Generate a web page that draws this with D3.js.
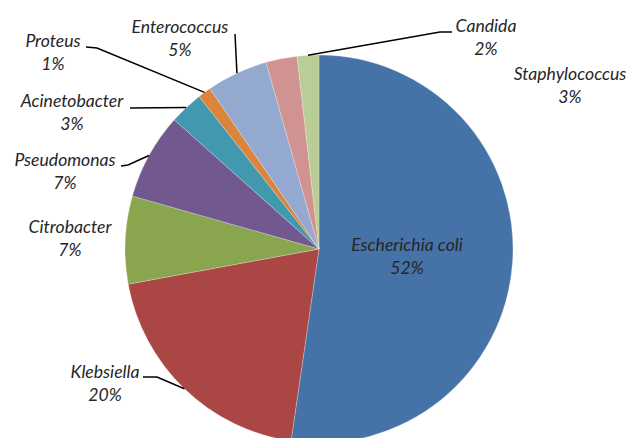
<!DOCTYPE html>
<html>
<head>
<meta charset="utf-8">
<script src="https://cdn.jsdelivr.net/npm/d3@7"></script>
<style>
  body { margin: 0; background: #fff; }
  svg text { font-family: Lato, "Open Sans", sans-serif; font-style: italic; font-size: 17.6px; fill: #262626; }
</style>
</head>
<body>
<div class="chart"></div>
<script>
// Data (clockwise from 12 o'clock, as in the original)
const organisms = ["Escherichia coli", "Klebsiella", "Citrobacter", "Pseudomonas", "Acinetobacter",
                   "Proteus", "Enterococcus", "Staphylococcus", "Candida"];
const shares = [52.3, 19.8, 7.3, 7.2, 2.8, 1.1, 5.1, 2.6, 1.8];
const pctLabels = ["52%", "20%", "7%", "7%", "3%", "1%", "5%", "3%", "2%"];
const colors = ["#4572a7", "#aa4643", "#89a54e", "#71588f", "#4198af",
                "#db843d", "#93a9cf", "#d19392", "#b9cd96"];

const WIDTH = 631, HEIGHT = 438;
const CX = 319, CY = 249, R = 194;

// label placement (text centre x, first baseline y) and leader elbows near the label
const labelLayout = {
    "Escherichia coli": { x: 407, y: 251 },
    "Klebsiella":       { x: 105, y: 378, lead: [[143, 377], [157, 377]] },
    "Citrobacter":      { x: 70,  y: 233 },
    "Pseudomonas":      { x: 65,  y: 166, lead: [[121, 166], [128, 165]] },
    "Acinetobacter":    { x: 72,  y: 107, lead: [[130, 108]] },
    "Proteus":          { x: 53,  y: 47,  lead: [[86, 47], [97, 48]] },
    "Enterococcus":     { x: 180, y: 33,  lead: [[235, 34]] },
    "Staphylococcus":   { x: 570, y: 80 },
    "Candida":          { x: 486, y: 32,  lead: [[452, 32], [440, 32]] }
};

const svg = d3.select('.chart')
    .append('svg')
        .attr('width', WIDTH)
        .attr('height', HEIGHT);

const data = organisms.map((name, i) => ({ name: name, value: shares[i], pct: pctLabels[i], color: colors[i] }));

const pie = d3.pie()
    .sort(null)
    .value(d => d.value);

const arc = d3.arc()
    .innerRadius(0)
    .outerRadius(R);

const arcs = pie(data);

const g = svg.append('g')
    .attr('transform', `translate(${CX},${CY})`);

g.selectAll('path.slice')
    .data(arcs)
    .enter()
    .append('path')
        .attr('class', 'slice')
        .attr('d', arc)
        .attr('fill', d => d.data.color)
        .attr('stroke', '#fff')
        .attr('stroke-width', 0.4)
        .attr('stroke-opacity', 0.6);

// leader lines: from label elbow to the slice edge at its mid angle
const line = d3.line();
arcs.forEach(a => {
    const lay = labelLayout[a.data.name];
    if (!lay.lead) return;
    const mid = (a.startAngle + a.endAngle) / 2;
    const edge = [CX + R * Math.sin(mid), CY - R * Math.cos(mid)];
    svg.append('path')
        .attr('d', line(lay.lead.concat([edge])))
        .attr('fill', 'none')
        .attr('stroke', '#000')
        .attr('stroke-width', 1.5);
});

// labels
arcs.forEach(a => {
    const lay = labelLayout[a.data.name];
    const t = svg.append('text')
        .attr('text-anchor', 'middle')
        .attr('x', lay.x)
        .attr('y', lay.y);
    t.append('tspan')
        .attr('x', lay.x)
        .text(a.data.name);
    t.append('tspan')
        .attr('x', lay.x)
        .attr('dy', 23)
        .text(a.data.pct);
});
</script>
</body>
</html>
